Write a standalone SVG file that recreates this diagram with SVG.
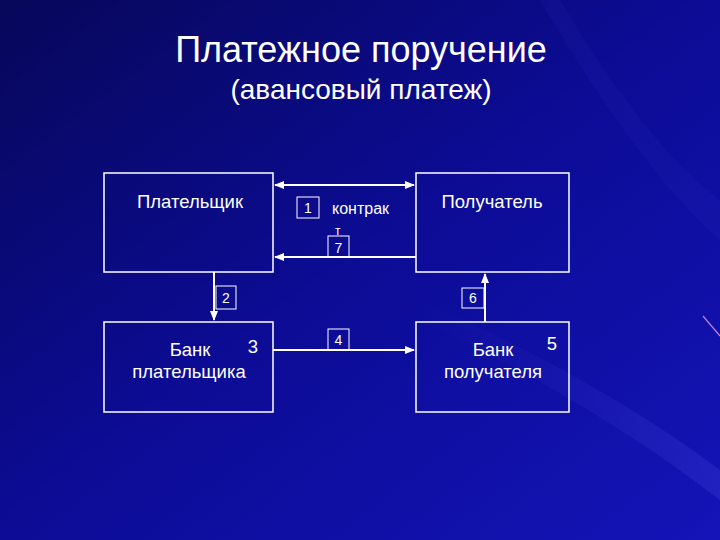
<svg xmlns="http://www.w3.org/2000/svg" width="720" height="540" viewBox="0 0 720 540">
<defs>
<linearGradient id="bg" x1="0" y1="0" x2="1" y2="1">
<stop offset="0" stop-color="#07075a"/>
<stop offset="0.5" stop-color="#0c0c96"/>
<stop offset="1" stop-color="#1414b8"/>
</linearGradient>
<linearGradient id="streak" x1="0" y1="0" x2="1" y2="0">
<stop offset="0" stop-color="#3a3ad0" stop-opacity="0"/>
<stop offset="1" stop-color="#4a4ae0" stop-opacity="0.25"/>
</linearGradient>
<marker id="ah" viewBox="0 0 10 10" refX="9" refY="5" markerWidth="5" markerHeight="5" orient="auto-start-reverse">
<path d="M0,1 L10,5 L0,9 z" fill="#ffffff"/>
</marker>
<style>
.box{fill:none;stroke:#ffffff;stroke-width:1.5}
.lbl{fill:none;stroke:#ffffff;stroke-width:1}
.ln{fill:none;stroke:#ffffff;stroke-width:2}
text{font-family:"Liberation Sans",Arial,sans-serif;fill:#ffffff}
.t{font-size:18.5px;text-anchor:middle}
.n{font-size:14px;text-anchor:middle}
</style>
</defs>
<rect width="720" height="540" fill="url(#bg)"/>
<path d="M420,300 Q600,380 720,470 L720,500 Q590,400 420,320 z" fill="url(#streak)"/>
<path d="M560,0 Q650,150 720,200 L720,240 Q640,170 540,0 z" fill="#3030c0" fill-opacity="0.12"/>
<line x1="703" y1="316" x2="720" y2="336" stroke="#c080e0" stroke-width="1.2"/>
<g id="title">
<text x="361" y="62" font-size="36" text-anchor="middle">Платежное поручение</text>
<text x="361" y="99" font-size="28" text-anchor="middle">(авансовый платеж)</text>
</g>
<g id="payer">
<rect class="box" x="104" y="173" width="169" height="99"/>
<text class="t" x="190" y="208">Плательщик</text>
</g>
<g id="payee">
<rect class="box" x="416" y="173" width="153" height="99"/>
<text class="t" x="492" y="208">Получатель</text>
</g>
<g id="payerbank">
<rect class="box" x="104" y="322" width="169" height="90"/>
<text class="t" x="190" y="356">Банк</text>
<text class="t" x="189" y="378">плательщика</text>
<text class="t" x="253" y="353">3</text>
</g>
<g id="payeebank">
<rect class="box" x="416" y="322" width="153" height="90"/>
<text class="t" x="493" y="356">Банк</text>
<text class="t" x="493" y="378">получателя</text>
<text class="t" x="552" y="350">5</text>
</g>
<g id="connectors">
<line class="ln" x1="275" y1="185" x2="414" y2="185" marker-start="url(#ah)" marker-end="url(#ah)"/>
<line class="ln" x1="416" y1="257" x2="275" y2="257" marker-end="url(#ah)"/>
<line class="ln" x1="214" y1="272" x2="214" y2="320" marker-end="url(#ah)"/>
<line class="ln" x1="485" y1="322" x2="485" y2="274" marker-end="url(#ah)"/>
<line class="ln" x1="273" y1="350" x2="414" y2="350" marker-end="url(#ah)"/>
</g>
<g id="labels">
<rect class="lbl" x="297" y="197" width="22" height="21"/>
<text class="n" x="308" y="213">1</text>
<text x="332" y="214" font-size="16">контрак</text>
<text x="335" y="235" font-size="12">т</text>
<rect class="lbl" x="328" y="236" width="21" height="21"/>
<text class="n" x="338.5" y="253">7</text>
<rect class="lbl" x="216" y="286" width="20" height="23"/>
<text class="n" x="226" y="303">2</text>
<rect class="lbl" x="462" y="288" width="22" height="20"/>
<text class="n" x="473" y="303">6</text>
<rect class="lbl" x="328" y="329" width="21" height="21"/>
<text class="n" x="338.5" y="345">4</text>
</g>
</svg>
